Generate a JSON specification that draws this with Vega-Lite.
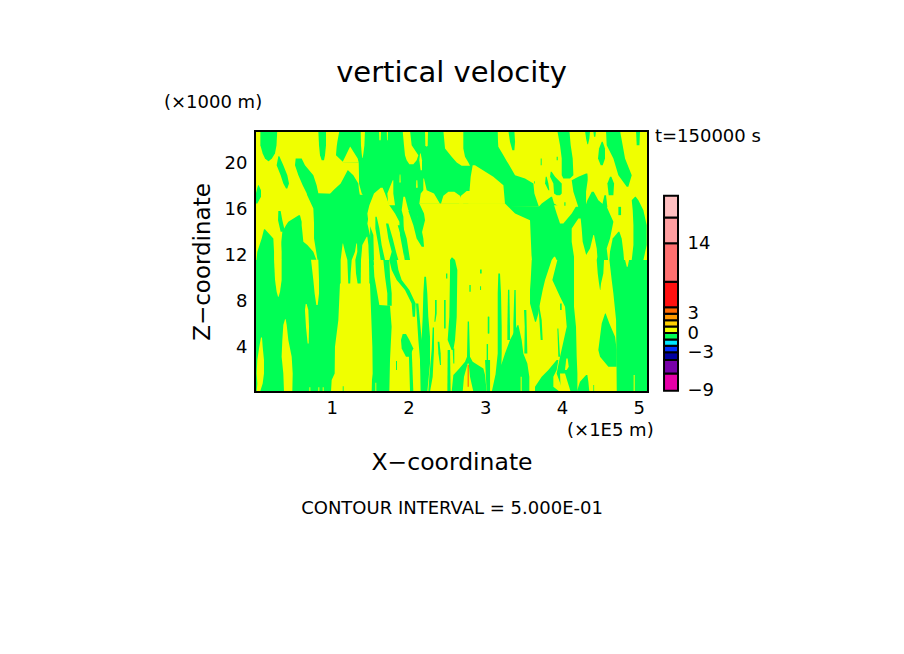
{
"$schema":"https://vega.github.io/schema/vega-lite/v6.json",
"autosize":"none",
"padding":{"left":255,"top":131,"right":256,"bottom":262},
"width":393,
"height":261,
"background":"white",
"config":{"view":{"stroke":null},"font":"DejaVu Sans"},
"title":{"text":"vertical velocity","fontSize":29,"fontWeight":"normal","font":"DejaVu Sans","color":"black","anchor":"middle","offset":6},
"datasets":{
"bar":[
{"level":"-9","lo":-9,"hi":-6.3},{"level":"-6","lo":-6.3,"hi":-4.2},{"level":"-4","lo":-4.2,"hi":-3},{"level":"-3","lo":-3,"hi":-2},{"level":"-2","lo":-2,"hi":-1},{"level":"-1","lo":-1,"hi":0},{"level":"0","lo":0,"hi":1},{"level":"1","lo":1,"hi":2},{"level":"2","lo":2,"hi":3},{"level":"3","lo":3,"hi":4},{"level":"4","lo":4,"hi":8},{"level":"8","lo":8,"hi":14},{"level":"14","lo":14,"hi":18},{"level":"18","lo":18,"hi":21.4}],
"notes":[
{"note":"(×1000 m)","x":-1.186,"z":25.2},
{"note":"(×1E5 m)","x":4.065,"z":-3.3},
{"note":"t=150000 s","x":5.21,"z":22.26}],
"footer":[{"note":"CONTOUR INTERVAL = 5.000E-01","x":2.567,"z":-10.09}],
"lobes":[
{"lobe":"base","level":"0","z":22.81,"xa":0,"xb":5.12},{"lobe":"base","level":"0","z":0.09,"xa":0,"xb":5.12},
{"lobe":"g1","level":"-1","z":22.81,"xa":0.07,"xb":0.29},{"lobe":"g1","level":"-1","z":21.57,"xa":0.07,"xb":0.28},{"lobe":"g1","level":"-1","z":20.84,"xa":0.1,"xb":0.26},{"lobe":"g1","level":"-1","z":20.41,"xa":0.13,"xb":0.22},{"lobe":"g1","level":"-1","z":20.17,"xa":0.174,"xb":0.178},
{"lobe":"g2","level":"-1","z":20.61,"xa":0.304,"xb":0.317},{"lobe":"g2","level":"-1","z":19.83,"xa":0.282,"xb":0.369},{"lobe":"g2","level":"-1","z":18.96,"xa":0.334,"xb":0.421},{"lobe":"g2","level":"-1","z":18.23,"xa":0.369,"xb":0.443},{"lobe":"g2","level":"-1","z":17.8,"xa":0.404,"xb":0.421},
{"lobe":"g3","level":"-1","z":18.09,"xa":0.039,"xb":0.048},{"lobe":"g3","level":"-1","z":17.65,"xa":0.022,"xb":0.078},{"lobe":"g3","level":"-1","z":17.07,"xa":0,"xb":0.078},{"lobe":"g3","level":"-1","z":16.49,"xa":0,"xb":0.03},
{"lobe":"g4","level":"-1","z":22.81,"xa":0.825,"xb":0.925},{"lobe":"g4","level":"-1","z":21.57,"xa":0.834,"xb":0.925},{"lobe":"g4","level":"-1","z":20.7,"xa":0.847,"xb":0.912},{"lobe":"g4","level":"-1","z":20.26,"xa":0.869,"xb":0.899},
{"lobe":"l1","level":"-1","z":14.26,"xa":0.117,"xb":0.13},{"lobe":"l1","level":"-1","z":13.45,"xa":0.087,"xb":0.239},{"lobe":"l1","level":"-1","z":12.29,"xa":0.03,"xb":0.248},{"lobe":"l1","level":"-1","z":11.13,"xa":0.013,"xb":0.248},
{"lobe":"l2","level":"-1","z":15.83,"xa":0.304,"xb":0.334},{"lobe":"l2","level":"-1","z":15.04,"xa":0.3,"xb":0.356},{"lobe":"l2","level":"-1","z":14.03,"xa":0.334,"xb":0.391},
{"lobe":"l3","level":"-1","z":15.48,"xa":0.569,"xb":0.586},{"lobe":"l3","level":"-1","z":14.9,"xa":0.434,"xb":0.608},{"lobe":"l3","level":"-1","z":14.61,"xa":0.404,"xb":0.608},{"lobe":"l3","level":"-1","z":14.03,"xa":0.356,"xb":0.617},{"lobe":"l3","level":"-1","z":13.16,"xa":0.343,"xb":0.63},{"lobe":"l3","level":"-1","z":12.87,"xa":0.343,"xb":0.682},{"lobe":"l3","level":"-1","z":12.29,"xa":0.347,"xb":0.76},{"lobe":"l3","level":"-1","z":11.13,"xa":0.347,"xb":0.825},
{"lobe":"trunk","level":"-1","z":20.41,"xa":0.53,"xb":0.608},{"lobe":"trunk","level":"-1","z":19.83,"xa":0.521,"xb":0.651},{"lobe":"trunk","level":"-1","z":18.96,"xa":0.565,"xb":0.76},{"lobe":"trunk","level":"-1","z":18.09,"xa":0.621,"xb":0.803},{"lobe":"trunk","level":"-1","z":17.39,"xa":0.673,"xb":0.825},{"lobe":"trunk","level":"-1","z":17.22,"xa":0.68,"xb":1.563},{"lobe":"trunk","level":"-1","z":16.06,"xa":0.76,"xb":1.498},{"lobe":"trunk","level":"-1","z":14.75,"xa":0.769,"xb":1.464},{"lobe":"trunk","level":"-1","z":13.45,"xa":0.769,"xb":1.507},{"lobe":"trunk","level":"-1","z":11.13,"xa":0.825,"xb":1.55},
{"lobe":"peak","level":"-1","z":19.39,"xa":1.207,"xb":1.212},{"lobe":"peak","level":"-1","z":18.96,"xa":1.173,"xb":1.281},{"lobe":"peak","level":"-1","z":18.23,"xa":1.116,"xb":1.346},{"lobe":"peak","level":"-1","z":17.65,"xa":1.021,"xb":1.355},{"lobe":"peak","level":"-1","z":17.16,"xa":0.955,"xb":1.368},
{"lobe":"band","level":"-1","z":22.81,"xa":1.099,"xb":3.162},{"lobe":"band","level":"-1","z":21.86,"xa":1.073,"xb":3.166},{"lobe":"band","level":"-1","z":21.42,"xa":1.064,"xb":3.17},{"lobe":"band","level":"-1","z":20.7,"xa":1.055,"xb":3.236},{"lobe":"band","level":"-1","z":20.09,"xa":1.151,"xb":3.288},{"lobe":"band","level":"-1","z":20.06,"xa":1.351,"xb":3.292},{"lobe":"band","level":"-1","z":18.96,"xa":1.355,"xb":3.388},{"lobe":"band","level":"-1","z":18.67,"xa":1.355,"xb":3.518},{"lobe":"band","level":"-1","z":18.23,"xa":1.355,"xb":3.627},{"lobe":"band","level":"-1","z":17.36,"xa":1.39,"xb":3.64},{"lobe":"band","level":"-1","z":16.35,"xa":1.5,"xb":3.692},{"lobe":"band","level":"-1","z":16.2,"xa":1.5,"xb":3.7},{"lobe":"band","level":"-1","z":16.17,"xa":1.5,"xb":2.25},{"lobe":"band","level":"-1","z":11.57,"xa":1.5,"xb":2.25},
{"lobe":"bot","level":"-1","z":11.57,"xa":0,"xb":1.542},{"lobe":"bot","level":"-1","z":10.12,"xa":0,"xb":1.555},{"lobe":"bot","level":"-1","z":8.67,"xa":0,"xb":1.594},{"lobe":"bot","level":"-1","z":7.65,"xa":0,"xb":1.62},{"lobe":"bot","level":"-1","z":7.59,"xa":0,"xb":1.759},{"lobe":"bot","level":"-1","z":5.77,"xa":0,"xb":1.78},{"lobe":"bot","level":"-1","z":2.87,"xa":0,"xb":1.759},{"lobe":"bot","level":"-1","z":0.09,"xa":0,"xb":1.75},
{"lobe":"mass","level":"-1","z":16.2,"xa":3.2,"xb":4.582},{"lobe":"mass","level":"-1","z":14.9,"xa":3.55,"xb":4.669},{"lobe":"mass","level":"-1","z":13.45,"xa":3.583,"xb":4.625},{"lobe":"mass","level":"-1","z":12.58,"xa":3.583,"xb":4.582},{"lobe":"mass","level":"-1","z":11.57,"xa":3.605,"xb":4.6},
{"lobe":"m0","level":"-1","z":17.07,"xa":3.857,"xb":3.87},{"lobe":"m0","level":"-1","z":16.49,"xa":3.735,"xb":3.896},{"lobe":"m0","level":"-1","z":16.17,"xa":3.692,"xb":3.974},
{"lobe":"mp","level":"-1","z":17.51,"xa":4.387,"xb":4.413},{"lobe":"mp","level":"-1","z":16.78,"xa":4.33,"xb":4.473},{"lobe":"mp","level":"-1","z":16.17,"xa":4.3,"xb":4.582},
{"lobe":"mq","level":"-1","z":17.22,"xa":4.552,"xb":4.573},{"lobe":"mq","level":"-1","z":16.17,"xa":4.517,"xb":4.591},
{"lobe":"mn","level":"-1","z":19.1,"xa":4.313,"xb":4.33},{"lobe":"mn","level":"-1","z":18.81,"xa":4.213,"xb":4.334},{"lobe":"mn","level":"-1","z":18.52,"xa":4.126,"xb":4.334},{"lobe":"mn","level":"-1","z":17.51,"xa":4.148,"xb":4.313},{"lobe":"mn","level":"-1","z":16.17,"xa":4.213,"xb":4.313},
{"lobe":"mm","level":"-1","z":19.25,"xa":3.852,"xb":3.865},{"lobe":"mm","level":"-1","z":18.81,"xa":3.844,"xb":3.909},{"lobe":"mm","level":"-1","z":18.23,"xa":3.887,"xb":3.996},{"lobe":"mm","level":"-1","z":17.36,"xa":3.896,"xb":3.996},{"lobe":"mm","level":"-1","z":17.22,"xa":3.93,"xb":3.974},
{"lobe":"ml","level":"-1","z":18.81,"xa":3.787,"xb":3.8},{"lobe":"ml","level":"-1","z":18.23,"xa":3.779,"xb":3.822},{"lobe":"ml","level":"-1","z":17.65,"xa":3.822,"xb":3.835},
{"lobe":"ua","level":"-1","z":22.81,"xa":3.939,"xb":4.096},{"lobe":"ua","level":"-1","z":21.57,"xa":3.974,"xb":4.113},{"lobe":"ua","level":"-1","z":20.41,"xa":3.996,"xb":4.139},{"lobe":"ua","level":"-1","z":18.96,"xa":3.996,"xb":4.148},{"lobe":"ua","level":"-1","z":18.67,"xa":4.017,"xb":4.104},
{"lobe":"ub","level":"-1","z":22.81,"xa":3.301,"xb":3.379},{"lobe":"ub","level":"-1","z":21.86,"xa":3.322,"xb":3.388},{"lobe":"ub","level":"-1","z":21.13,"xa":3.353,"xb":3.379},
{"lobe":"uc","level":"-1","z":22.81,"xa":4.3,"xb":4.365},{"lobe":"uc","level":"-1","z":22.14,"xa":4.313,"xb":4.356},{"lobe":"uc","level":"-1","z":21.65,"xa":4.33,"xb":4.339},
{"lobe":"ud","level":"-1","z":22.81,"xa":4.408,"xb":4.443},{"lobe":"ud","level":"-1","z":22.29,"xa":4.417,"xb":4.434},
{"lobe":"ue","level":"-1","z":21.86,"xa":4.517,"xb":4.53},{"lobe":"ue","level":"-1","z":21.28,"xa":4.482,"xb":4.56},{"lobe":"ue","level":"-1","z":20.41,"xa":4.469,"xb":4.56},{"lobe":"ue","level":"-1","z":19.83,"xa":4.504,"xb":4.53},
{"lobe":"uf","level":"-1","z":22.81,"xa":4.573,"xb":4.756},{"lobe":"uf","level":"-1","z":21.57,"xa":4.582,"xb":4.79},{"lobe":"uf","level":"-1","z":20.41,"xa":4.669,"xb":4.821},{"lobe":"uf","level":"-1","z":18.96,"xa":4.734,"xb":4.908},{"lobe":"uf","level":"-1","z":17.94,"xa":4.843,"xb":4.864},
{"lobe":"ug","level":"-1","z":22.81,"xa":4.964,"xb":5.016},{"lobe":"ug","level":"-1","z":21.57,"xa":4.973,"xb":5.008},
{"lobe":"uh","level":"-1","z":18.81,"xa":4.625,"xb":4.643},{"lobe":"uh","level":"-1","z":18.23,"xa":4.591,"xb":4.678},{"lobe":"uh","level":"-1","z":17.22,"xa":4.608,"xb":4.669},
{"lobe":"ui","level":"-1","z":16.2,"xa":4.734,"xb":4.769},{"lobe":"ui","level":"-1","z":15.48,"xa":4.734,"xb":4.769},
{"lobe":"uj","level":"-1","z":17.07,"xa":4.951,"xb":4.96},{"lobe":"uj","level":"-1","z":16.78,"xa":4.908,"xb":4.995},{"lobe":"uj","level":"-1","z":15.91,"xa":4.921,"xb":5.06},{"lobe":"uj","level":"-1","z":14.61,"xa":4.93,"xb":5.103},{"lobe":"uj","level":"-1","z":12.87,"xa":4.93,"xb":5.103},{"lobe":"uj","level":"-1","z":11.57,"xa":4.908,"xb":5.06},
{"lobe":"uk","level":"-1","z":14.03,"xa":4.734,"xb":4.747},{"lobe":"uk","level":"-1","z":13.45,"xa":4.66,"xb":4.777},{"lobe":"uk","level":"-1","z":12.29,"xa":4.625,"xb":4.799},{"lobe":"uk","level":"-1","z":11.57,"xa":4.617,"xb":4.808},
{"lobe":"r2","level":"-1","z":11.57,"xa":4.617,"xb":5.12},{"lobe":"r2","level":"-1","z":9.83,"xa":4.647,"xb":5.12},{"lobe":"r2","level":"-1","z":8.67,"xa":4.669,"xb":5.12},{"lobe":"r2","level":"-1","z":6.35,"xa":4.704,"xb":5.12},{"lobe":"r2","level":"-1","z":0.09,"xa":4.713,"xb":5.12},
{"lobe":"yw","level":"0","z":21.42,"xa":1.238,"xb":1.242},{"lobe":"yw","level":"0","z":20.41,"xa":1.164,"xb":1.338},{"lobe":"yw","level":"0","z":20.06,"xa":1.138,"xb":1.351},
{"lobe":"yn","level":"0","z":22.81,"xa":1.377,"xb":1.433},{"lobe":"yn","level":"0","z":21.57,"xa":1.381,"xb":1.425},{"lobe":"yn","level":"0","z":20.84,"xa":1.39,"xb":1.412},{"lobe":"yn","level":"0","z":20.46,"xa":1.398,"xb":1.403},
{"lobe":"yt1","level":"0","z":22.81,"xa":1.616,"xb":1.642},{"lobe":"yt1","level":"0","z":22,"xa":1.62,"xb":1.637},
{"lobe":"yt2","level":"0","z":22.81,"xa":1.716,"xb":1.733},{"lobe":"yt2","level":"0","z":22,"xa":1.72,"xb":1.729},
{"lobe":"yt3","level":"0","z":22.81,"xa":1.924,"xb":2.02},{"lobe":"yt3","level":"0","z":21.57,"xa":1.941,"xb":2.041},{"lobe":"yt3","level":"0","z":20.7,"xa":1.954,"xb":2.128},{"lobe":"yt3","level":"0","z":20.26,"xa":1.976,"xb":2.106},{"lobe":"yt3","level":"0","z":19.91,"xa":2.011,"xb":2.063},
{"lobe":"yt3b","level":"0","z":20.84,"xa":2.15,"xb":2.159},{"lobe":"yt3b","level":"0","z":20.26,"xa":2.141,"xb":2.176},{"lobe":"yt3b","level":"0","z":19.39,"xa":2.158,"xb":2.176},
{"lobe":"yt4","level":"0","z":22.81,"xa":2.215,"xb":2.254},{"lobe":"yt4","level":"0","z":21.57,"xa":2.219,"xb":2.25},{"lobe":"yt4","level":"0","z":21.45,"xa":2.232,"xb":2.241},
{"lobe":"yt5","level":"0","z":22.81,"xa":2.454,"xb":2.714},{"lobe":"yt5","level":"0","z":21.28,"xa":2.476,"xb":2.714},{"lobe":"yt5","level":"0","z":20.55,"xa":2.562,"xb":2.736},{"lobe":"yt5","level":"0","z":20.06,"xa":2.628,"xb":2.78},{"lobe":"yt5","level":"0","z":19.77,"xa":2.693,"xb":2.801},
{"lobe":"ys1","level":"0","z":19.01,"xa":1.885,"xb":1.894},{"lobe":"ys1","level":"0","z":18.32,"xa":1.881,"xb":1.898},
{"lobe":"ys2","level":"0","z":18.52,"xa":2.102,"xb":2.115},{"lobe":"ys2","level":"0","z":17.86,"xa":2.098,"xb":2.12},
{"lobe":"yz1","level":"0","z":17.86,"xa":1.637,"xb":1.663},{"lobe":"yz1","level":"0","z":17.36,"xa":1.55,"xb":1.694},{"lobe":"yz1","level":"0","z":16.35,"xa":1.49,"xb":1.75},{"lobe":"yz1","level":"0","z":15.62,"xa":1.464,"xb":1.824},{"lobe":"yz1","level":"0","z":14.9,"xa":1.477,"xb":1.881},{"lobe":"yz1","level":"0","z":13.74,"xa":1.542,"xb":1.889},{"lobe":"yz1","level":"0","z":11.57,"xa":1.55,"xb":1.95},
{"lobe":"yz1b","level":"0","z":18.52,"xa":1.794,"xb":1.802},{"lobe":"yz1b","level":"0","z":17.8,"xa":1.75,"xb":1.802},{"lobe":"yz1b","level":"0","z":17.36,"xa":1.724,"xb":1.802},{"lobe":"yz1b","level":"0","z":16.35,"xa":1.737,"xb":1.824},
{"lobe":"yz2","level":"0","z":17.07,"xa":1.933,"xb":1.954},{"lobe":"yz2","level":"0","z":15.91,"xa":1.911,"xb":1.998},{"lobe":"yz2","level":"0","z":15.33,"xa":1.933,"xb":2.115},{"lobe":"yz2","level":"0","z":13.74,"xa":1.941,"xb":2.159},{"lobe":"yz2","level":"0","z":11.57,"xa":1.95,"xb":2.2},
{"lobe":"yb1","level":"0","z":16.49,"xa":2.141,"xb":3.257},{"lobe":"yb1","level":"0","z":15.62,"xa":2.202,"xb":3.388},{"lobe":"yb1","level":"0","z":15.04,"xa":2.215,"xb":3.583},{"lobe":"yb1","level":"0","z":11.57,"xa":2.085,"xb":3.605},
{"lobe":"yp1","level":"0","z":18.67,"xa":2.193,"xb":2.202},{"lobe":"yp1","level":"0","z":17.65,"xa":2.193,"xb":2.237},{"lobe":"yp1","level":"0","z":17.36,"xa":2.159,"xb":2.332},{"lobe":"yp1","level":"0","z":16.46,"xa":2.141,"xb":2.41},
{"lobe":"yp2","level":"0","z":17.51,"xa":2.519,"xb":2.597},{"lobe":"yp2","level":"0","z":17.16,"xa":2.454,"xb":2.671},{"lobe":"yp2","level":"0","z":16.46,"xa":2.423,"xb":2.714},
{"lobe":"yp3","level":"0","z":17.59,"xa":2.758,"xb":2.823},{"lobe":"yp3","level":"0","z":17.16,"xa":2.684,"xb":2.823},{"lobe":"yp3","level":"0","z":16.46,"xa":2.658,"xb":3.257},
{"lobe":"yp4","level":"0","z":19.83,"xa":2.836,"xb":2.866},{"lobe":"yp4","level":"0","z":18.81,"xa":2.81,"xb":3.105},{"lobe":"yp4","level":"0","z":18.09,"xa":2.801,"xb":3.236},{"lobe":"yp4","level":"0","z":16.46,"xa":2.78,"xb":3.257},
{"lobe":"ya","level":"0","z":15.19,"xa":4.213,"xb":4.243},{"lobe":"ya","level":"0","z":14.32,"xa":4.126,"xb":4.256},{"lobe":"ya","level":"0","z":13.16,"xa":4.126,"xb":4.269},{"lobe":"ya","level":"0","z":11.86,"xa":4.156,"xb":4.321},{"lobe":"ya","level":"0","z":11.57,"xa":4.156,"xb":4.452},
{"lobe":"yb","level":"0","z":13.74,"xa":4.408,"xb":4.417},{"lobe":"yb","level":"0","z":12.58,"xa":4.365,"xb":4.452},{"lobe":"yb","level":"0","z":11.86,"xa":4.3,"xb":4.46},{"lobe":"yb","level":"0","z":11.57,"xa":4.156,"xb":4.452},
{"lobe":"yc","level":"0","z":16.35,"xa":3.896,"xb":4.191},{"lobe":"yc","level":"0","z":15.62,"xa":3.93,"xb":4.126},{"lobe":"yc","level":"0","z":14.75,"xa":3.974,"xb":4.017},
{"lobe":"yd","level":"0","z":11.86,"xa":3.896,"xb":3.909},{"lobe":"yd","level":"0","z":11.57,"xa":3.865,"xb":3.93},
{"lobe":"yfa","level":"0","z":11.6,"xa":0.248,"xb":0.347},{"lobe":"yfa","level":"0","z":9.83,"xa":0.261,"xb":0.347},{"lobe":"yfa","level":"0","z":8.81,"xa":0.282,"xb":0.326},{"lobe":"yfa","level":"0","z":8.38,"xa":0.3,"xb":0.308},
{"lobe":"yfb","level":"0","z":11.6,"xa":0.73,"xb":0.825},{"lobe":"yfb","level":"0","z":9.83,"xa":0.76,"xb":0.834},{"lobe":"yfb","level":"0","z":8.67,"xa":0.777,"xb":0.834},{"lobe":"yfb","level":"0","z":7.65,"xa":0.799,"xb":0.817},
{"lobe":"yfc","level":"0","z":7.74,"xa":0.66,"xb":0.673},{"lobe":"yfc","level":"0","z":7.22,"xa":0.651,"xb":0.695},{"lobe":"yfc","level":"0","z":5.77,"xa":0.664,"xb":0.704},{"lobe":"yfc","level":"0","z":4.32,"xa":0.686,"xb":0.699},
{"lobe":"yfd","level":"0","z":6.41,"xa":0.391,"xb":0.4},{"lobe":"yfd","level":"0","z":5.91,"xa":0.369,"xb":0.413},{"lobe":"yfd","level":"0","z":4.61,"xa":0.356,"xb":0.434},{"lobe":"yfd","level":"0","z":3.16,"xa":0.347,"xb":0.478},{"lobe":"yfd","level":"0","z":1.71,"xa":0.369,"xb":0.491},{"lobe":"yfd","level":"0","z":0.09,"xa":0.378,"xb":0.486},
{"lobe":"yfe","level":"0","z":4.84,"xa":0.078,"xb":0.091},{"lobe":"yfe","level":"0","z":4.03,"xa":0.056,"xb":0.1},{"lobe":"yfe","level":"0","z":2.87,"xa":0.03,"xb":0.117},{"lobe":"yfe","level":"0","z":1.71,"xa":0.022,"xb":0.117},{"lobe":"yfe","level":"0","z":0.84,"xa":0.03,"xb":0.1},{"lobe":"yfe","level":"0","z":0.09,"xa":0.022,"xb":0.065},
{"lobe":"yb2","level":"0","z":0.5,"xa":0.708,"xb":0.721},{"lobe":"yb2","level":"0","z":0.09,"xa":0.708,"xb":0.721},
{"lobe":"yb3","level":"0","z":0.5,"xa":0.825,"xb":0.838},{"lobe":"yb3","level":"0","z":0.09,"xa":0.825,"xb":0.838},
{"lobe":"yb4","level":"0","z":0.5,"xa":0.882,"xb":0.895},{"lobe":"yb4","level":"0","z":0.09,"xa":0.882,"xb":0.895},
{"lobe":"yb5","level":"0","z":0.9,"xa":1.568,"xb":1.58},{"lobe":"yb5","level":"0","z":0.09,"xa":1.568,"xb":1.58},
{"lobe":"f1","level":"0","z":13.01,"xa":1.142,"xb":1.147},{"lobe":"f1","level":"0","z":12.29,"xa":1.129,"xb":1.173},{"lobe":"f1","level":"0","z":11.57,"xa":1.116,"xb":1.203},{"lobe":"f1","level":"0","z":9.39,"xa":1.116,"xb":1.216},
{"lobe":"f2","level":"0","z":13.01,"xa":1.32,"xb":1.329},{"lobe":"f2","level":"0","z":12.29,"xa":1.303,"xb":1.333},{"lobe":"f2","level":"0","z":11.57,"xa":1.26,"xb":1.307},{"lobe":"f2","level":"0","z":10.41,"xa":1.246,"xb":1.316},{"lobe":"f2","level":"0","z":9.39,"xa":1.24,"xb":1.34},
{"lobe":"f3","level":"0","z":13.59,"xa":1.455,"xb":1.464},{"lobe":"f3","level":"0","z":12.87,"xa":1.398,"xb":1.477},{"lobe":"f3","level":"0","z":11.57,"xa":1.381,"xb":1.485},{"lobe":"f3","level":"0","z":9.39,"xa":1.377,"xb":1.49},
{"lobe":"fc","level":"0","z":9.54,"xa":1.107,"xb":1.498},{"lobe":"fc","level":"0","z":6.35,"xa":1.086,"xb":1.516},{"lobe":"fc","level":"0","z":4.03,"xa":1.042,"xb":1.529},{"lobe":"fc","level":"0","z":1.71,"xa":1.038,"xb":1.533},{"lobe":"fc","level":"0","z":1.13,"xa":0.999,"xb":1.524},{"lobe":"fc","level":"0","z":0.09,"xa":0.99,"xb":1.52},
{"lobe":"yr1","level":"0","z":11.57,"xa":4.821,"xb":4.873},{"lobe":"yr1","level":"0","z":10.99,"xa":4.843,"xb":4.856},
{"lobe":"yr2","level":"0","z":1.57,"xa":4.933,"xb":4.947},{"lobe":"yr2","level":"0","z":0.09,"xa":4.933,"xb":4.947},
{"lobe":"sa","level":"-1","z":15.33,"xa":1.568,"xb":1.585},{"lobe":"sa","level":"-1","z":14.32,"xa":1.568,"xb":1.62},{"lobe":"sa","level":"-1","z":12.87,"xa":1.607,"xb":1.65},{"lobe":"sa","level":"-1","z":11.57,"xa":1.637,"xb":1.694},
{"lobe":"sb","level":"-1","z":14.75,"xa":1.707,"xb":1.737},{"lobe":"sb","level":"-1","z":13.45,"xa":1.737,"xb":1.794},{"lobe":"sb","level":"-1","z":12.29,"xa":1.781,"xb":1.837},{"lobe":"sb","level":"-1","z":11.57,"xa":1.75,"xb":1.868},
{"lobe":"s3","level":"-1","z":11.57,"xa":1.75,"xb":1.846},{"lobe":"s3","level":"-1","z":10.7,"xa":1.781,"xb":1.868},{"lobe":"s3","level":"-1","z":9.83,"xa":1.846,"xb":1.911},{"lobe":"s3","level":"-1","z":8.96,"xa":1.954,"xb":2.011},{"lobe":"s3","level":"-1","z":7.8,"xa":2.041,"xb":2.093},{"lobe":"s3","level":"-1","z":6.64,"xa":2.054,"xb":2.085},
{"lobe":"s2","level":"-1","z":11.57,"xa":1.672,"xb":1.75},{"lobe":"s2","level":"-1","z":10.12,"xa":1.694,"xb":1.759},{"lobe":"s2","level":"-1","z":8.67,"xa":1.724,"xb":1.781},{"lobe":"s2","level":"-1","z":7.59,"xa":1.724,"xb":1.781},
{"lobe":"sc","level":"-1","z":14.61,"xa":1.859,"xb":1.924},{"lobe":"sc","level":"-1","z":13.45,"xa":1.911,"xb":1.976},{"lobe":"sc","level":"-1","z":11.57,"xa":1.954,"xb":2.02},
{"lobe":"sd","level":"-1","z":15.83,"xa":1.998,"xb":2.093},{"lobe":"sd","level":"-1","z":14.61,"xa":2.063,"xb":2.159},{"lobe":"sd","level":"-1","z":13.45,"xa":2.106,"xb":2.193},{"lobe":"sd","level":"-1","z":12.72,"xa":2.172,"xb":2.202},
{"lobe":"blob","level":"-1","z":5.13,"xa":1.924,"xb":1.967},{"lobe":"blob","level":"-1","z":4.61,"xa":1.902,"xb":2.011},{"lobe":"blob","level":"-1","z":3.88,"xa":1.911,"xb":2.063},{"lobe":"blob","level":"-1","z":3.16,"xa":1.967,"xb":2.011},
{"lobe":"se","level":"-1","z":3.88,"xa":2.002,"xb":2.041},{"lobe":"se","level":"-1","z":0.09,"xa":2.02,"xb":2.063},
{"lobe":"sf","level":"-1","z":2.78,"xa":1.837,"xb":1.85},{"lobe":"sf","level":"-1","z":2,"xa":1.837,"xb":1.85},
{"lobe":"sg","level":"-1","z":7.8,"xa":2.098,"xb":2.128},{"lobe":"sg","level":"-1","z":4.61,"xa":2.128,"xb":2.172},{"lobe":"sg","level":"-1","z":2.87,"xa":2.15,"xb":2.215},{"lobe":"sg","level":"-1","z":0.09,"xa":2.158,"xb":2.228},
{"lobe":"s7a","level":"-1","z":10.12,"xa":2.206,"xb":2.228},{"lobe":"s7a","level":"-1","z":8.67,"xa":2.193,"xb":2.245},{"lobe":"s7a","level":"-1","z":6.64,"xa":2.185,"xb":2.258},{"lobe":"s7a","level":"-1","z":4.9,"xa":2.172,"xb":2.28},{"lobe":"s7a","level":"-1","z":4.03,"xa":2.15,"xb":2.28},{"lobe":"s7a","level":"-1","z":2.58,"xa":2.15,"xb":2.28},{"lobe":"s7a","level":"-1","z":0.12,"xa":2.215,"xb":2.245},
{"lobe":"s7b","level":"-1","z":8.09,"xa":2.345,"xb":2.367},{"lobe":"s7b","level":"-1","z":6.93,"xa":2.345,"xb":2.367},{"lobe":"s7b","level":"-1","z":6.2,"xa":2.337,"xb":2.35},
{"lobe":"s7c","level":"-1","z":4.46,"xa":2.38,"xb":2.402},{"lobe":"s7c","level":"-1","z":3.45,"xa":2.389,"xb":2.419},{"lobe":"s7c","level":"-1","z":2.43,"xa":2.41,"xb":2.423},
{"lobe":"s7d","level":"-1","z":5.71,"xa":2.315,"xb":2.332},{"lobe":"s7d","level":"-1","z":3.74,"xa":2.302,"xb":2.332},{"lobe":"s7d","level":"-1","z":1.42,"xa":2.271,"xb":2.315},{"lobe":"s7d","level":"-1","z":0.12,"xa":2.258,"xb":2.28},
{"lobe":"s7e","level":"-1","z":8.09,"xa":2.463,"xb":2.484},{"lobe":"s7e","level":"-1","z":5.62,"xa":2.463,"xb":2.484},
{"lobe":"fin","level":"-1","z":11.8,"xa":2.562,"xb":2.571},{"lobe":"fin","level":"-1","z":11.57,"xa":2.541,"xb":2.606},{"lobe":"fin","level":"-1","z":10.7,"xa":2.541,"xb":2.636},{"lobe":"fin","level":"-1","z":6.64,"xa":2.532,"xb":2.628},{"lobe":"fin","level":"-1","z":4.61,"xa":2.51,"xb":2.606},{"lobe":"fin","level":"-1","z":3.74,"xa":2.562,"xb":2.584},
{"lobe":"s7f","level":"-1","z":3.74,"xa":2.51,"xb":2.541},{"lobe":"s7f","level":"-1","z":0.12,"xa":2.506,"xb":2.549},
{"lobe":"s7g","level":"-1","z":3.88,"xa":2.575,"xb":2.597},{"lobe":"s7g","level":"-1","z":2.58,"xa":2.584,"xb":2.597},
{"lobe":"mound","level":"-1","z":6.23,"xa":2.771,"xb":2.788},{"lobe":"mound","level":"-1","z":3.16,"xa":2.762,"xb":2.801},{"lobe":"mound","level":"-1","z":2.72,"xa":2.736,"xb":2.836},{"lobe":"mound","level":"-1","z":2.14,"xa":2.662,"xb":2.975},{"lobe":"mound","level":"-1","z":1.57,"xa":2.584,"xb":2.997},{"lobe":"mound","level":"-1","z":0.12,"xa":2.562,"xb":3.018},
{"lobe":"ymound","level":"0","z":2.58,"xa":2.771,"xb":2.784},{"lobe":"ymound","level":"0","z":1.42,"xa":2.723,"xb":2.801},{"lobe":"ymound","level":"0","z":0.12,"xa":2.706,"xb":2.845},
{"lobe":"s7h","level":"-1","z":6.64,"xa":3.036,"xb":3.053},{"lobe":"s7h","level":"-1","z":5.19,"xa":3.036,"xb":3.053},
{"lobe":"s7i","level":"-1","z":4.26,"xa":3.018,"xb":3.036},{"lobe":"s7i","level":"-1","z":2.87,"xa":3.018,"xb":3.036},
{"lobe":"s7j","level":"-1","z":2.87,"xa":2.997,"xb":3.062},{"lobe":"s7j","level":"-1","z":0.12,"xa":3.018,"xb":3.062},
{"lobe":"sp1","level":"-1","z":10.41,"xa":2.489,"xb":2.506},{"lobe":"sp1","level":"-1","z":9.97,"xa":2.489,"xb":2.506},
{"lobe":"sp2","level":"-1","z":10.75,"xa":2.932,"xb":2.953},{"lobe":"sp2","level":"-1","z":10.41,"xa":2.932,"xb":2.953},
{"lobe":"sp3","level":"-1","z":9.39,"xa":2.793,"xb":2.81},{"lobe":"sp3","level":"-1","z":8.81,"xa":2.793,"xb":2.81},
{"lobe":"sp4","level":"-1","z":9.3,"xa":2.932,"xb":2.945},{"lobe":"sp4","level":"-1","z":8.96,"xa":2.932,"xb":2.945},
{"lobe":"sp5","level":"-1","z":20.41,"xa":3.722,"xb":3.735},{"lobe":"sp5","level":"-1","z":19.83,"xa":3.722,"xb":3.735},
{"lobe":"sp6","level":"-1","z":20.55,"xa":3.93,"xb":3.945},{"lobe":"sp6","level":"-1","z":20.26,"xa":3.93,"xb":3.945},
{"lobe":"sp7","level":"-1","z":18.43,"xa":3.635,"xb":3.645},{"lobe":"sp7","level":"-1","z":18.23,"xa":3.635,"xb":3.645},
{"lobe":"sp8","level":"-1","z":16.6,"xa":4.03,"xb":4.045},{"lobe":"sp8","level":"-1","z":16.3,"xa":4.03,"xb":4.045},
{"lobe":"sp9","level":"-1","z":0.6,"xa":1.143,"xb":1.155},{"lobe":"sp9","level":"-1","z":0.09,"xa":1.143,"xb":1.155},
{"lobe":"z43","level":"-1","z":10.41,"xa":3.17,"xb":3.192},{"lobe":"z43","level":"-1","z":8.67,"xa":3.162,"xb":3.205},{"lobe":"z43","level":"-1","z":5.77,"xa":3.162,"xb":3.214},{"lobe":"z43","level":"-1","z":3.45,"xa":3.162,"xb":3.214},{"lobe":"z43","level":"-1","z":0.09,"xa":3.11,"xb":3.2},
{"lobe":"z44","level":"-1","z":5.91,"xa":3.422,"xb":3.431},{"lobe":"z44","level":"-1","z":4.61,"xa":3.322,"xb":3.474},{"lobe":"z44","level":"-1","z":3.45,"xa":3.257,"xb":3.496},{"lobe":"z44","level":"-1","z":2.58,"xa":3.214,"xb":3.548},{"lobe":"z44","level":"-1","z":1.42,"xa":3.127,"xb":3.574},{"lobe":"z44","level":"-1","z":0.09,"xa":3.084,"xb":3.574},
{"lobe":"yz44","level":"0","z":1.42,"xa":3.461,"xb":3.474},{"lobe":"yz44","level":"0","z":0.09,"xa":3.461,"xb":3.474},
{"lobe":"z45","level":"-1","z":8.99,"xa":3.296,"xb":3.314},{"lobe":"z45","level":"-1","z":5.77,"xa":3.288,"xb":3.322},{"lobe":"z45","level":"-1","z":4.61,"xa":3.288,"xb":3.322},
{"lobe":"z46","level":"-1","z":8.96,"xa":3.379,"xb":3.396},{"lobe":"z46","level":"-1","z":6.06,"xa":3.366,"xb":3.401},{"lobe":"z46","level":"-1","z":4.61,"xa":3.366,"xb":3.409},
{"lobe":"z47","level":"-1","z":7.22,"xa":3.505,"xb":3.535},{"lobe":"z47","level":"-1","z":5.77,"xa":3.514,"xb":3.54},{"lobe":"z47","level":"-1","z":3.45,"xa":3.509,"xb":3.548},
{"lobe":"z48","level":"-1","z":6.64,"xa":3.032,"xb":3.049},{"lobe":"z48","level":"-1","z":5.19,"xa":3.032,"xb":3.049},
{"lobe":"tongue","level":"-1","z":11.57,"xa":3.605,"xb":3.865},{"lobe":"tongue","level":"-1","z":9.83,"xa":3.592,"xb":3.779},{"lobe":"tongue","level":"-1","z":8.96,"xa":3.583,"xb":3.748},{"lobe":"tongue","level":"-1","z":7.8,"xa":3.583,"xb":3.713},{"lobe":"tongue","level":"-1","z":6.93,"xa":3.618,"xb":3.692},{"lobe":"tongue","level":"-1","z":6.2,"xa":3.648,"xb":3.661},
{"lobe":"z49","level":"-1","z":7.51,"xa":3.692,"xb":3.705},{"lobe":"z49","level":"-1","z":6.35,"xa":3.705,"xb":3.735},{"lobe":"z49","level":"-1","z":4.61,"xa":3.722,"xb":3.748},
{"lobe":"n1","level":"-1","z":11.57,"xa":3.939,"xb":4.156},{"lobe":"n1","level":"-1","z":9.83,"xa":3.874,"xb":4.156},{"lobe":"n1","level":"-1","z":8.38,"xa":3.974,"xb":4.156},{"lobe":"n1","level":"-1","z":7.51,"xa":4.039,"xb":4.156},{"lobe":"n1","level":"-1","z":5.77,"xa":4.061,"xb":4.182},{"lobe":"n1","level":"-1","z":3.16,"xa":3.974,"xb":4.191},{"lobe":"n1","level":"-1","z":1.71,"xa":3.93,"xb":4.2},{"lobe":"n1","level":"-1","z":0.09,"xa":4.017,"xb":4.2},
{"lobe":"n2","level":"-1","z":2.87,"xa":3.93,"xb":3.952},{"lobe":"n2","level":"-1","z":2,"xa":3.822,"xb":3.93},{"lobe":"n2","level":"-1","z":1.42,"xa":3.735,"xb":3.887},{"lobe":"n2","level":"-1","z":0.55,"xa":3.648,"xb":3.887},{"lobe":"n2","level":"-1","z":0.09,"xa":3.648,"xb":3.974},
{"lobe":"yn1","level":"0","z":3.01,"xa":4.056,"xb":4.074},{"lobe":"yn1","level":"0","z":2.29,"xa":4.043,"xb":4.087},{"lobe":"yn1","level":"0","z":2,"xa":4.039,"xb":4.061},
{"lobe":"yn2","level":"0","z":1.71,"xa":3.974,"xb":4.039},{"lobe":"yn2","level":"0","z":0.09,"xa":3.983,"xb":4.113},
{"lobe":"n3","level":"-1","z":5.62,"xa":3.939,"xb":3.952},{"lobe":"n3","level":"-1","z":3.16,"xa":3.952,"xb":3.974},
{"lobe":"n4","level":"-1","z":7.8,"xa":3.974,"xb":3.996},{"lobe":"n4","level":"-1","z":7.22,"xa":3.974,"xb":3.996},
{"lobe":"n5","level":"-1","z":1.57,"xa":4.313,"xb":4.33},{"lobe":"n5","level":"-1","z":0.99,"xa":4.234,"xb":4.343},{"lobe":"n5","level":"-1","z":0.09,"xa":4.191,"xb":4.356},
{"lobe":"n6","level":"-1","z":0.7,"xa":4.408,"xb":4.418},{"lobe":"n6","level":"-1","z":0.09,"xa":4.408,"xb":4.418},
{"lobe":"r1","level":"-1","z":11.57,"xa":4.452,"xb":4.547},{"lobe":"r1","level":"-1","z":10.41,"xa":4.465,"xb":4.538},{"lobe":"r1","level":"-1","z":9.54,"xa":4.482,"xb":4.508},{"lobe":"r1","level":"-1","z":8.96,"xa":4.495,"xb":4.499},
{"lobe":"c4","level":"-1","z":6.93,"xa":4.56,"xb":4.569},{"lobe":"c4","level":"-1","z":6.06,"xa":4.517,"xb":4.617},{"lobe":"c4","level":"-1","z":4.9,"xa":4.495,"xb":4.691},{"lobe":"c4","level":"-1","z":3.74,"xa":4.473,"xb":4.712},{"lobe":"c4","level":"-1","z":3.16,"xa":4.495,"xb":4.712},{"lobe":"c4","level":"-1","z":2.29,"xa":4.604,"xb":4.712},
{"lobe":"streak","level":"3","z":2.43,"xa":2.77,"xb":2.785},{"lobe":"streak","level":"3","z":0.55,"xa":2.77,"xb":2.785}
]},
"resolve":{"scale":{"y":"independent"}},
"layer":[
{"data":{"name":"lobes"},
"mark":{"type":"area","orient":"horizontal","clip":true},
"encoding":{
"x":{"field":"xa","type":"quantitative","scale":{"domain":[0,5.12],"nice":false},"axis":{"values":[1,2,3,4,5],"format":"d","title":"X−coordinate","titleFontSize":23.5,"titleFontWeight":"normal","titleColor":"black","titlePadding":33,"labelFontSize":18,"labelColor":"black","labelPadding":7,"domain":false,"ticks":false,"grid":false}},
"x2":{"field":"xb"},
"y":{"field":"z","type":"quantitative","scale":{"domain":[0.09,22.8],"nice":false,"zero":false},"axis":{"values":[4,8,12,16,20],"format":"d","title":"Z−coordinate","titleFontSize":23,"titleFontWeight":"normal","titleColor":"black","titlePadding":10,"labelFontSize":18,"labelColor":"black","labelPadding":8,"domain":false,"ticks":false,"grid":false}},
"detail":{"field":"lobe"},
"color":{"field":"level","type":"nominal","legend":null,"scale":{"domain":["-9","-6","-4","-3","-2","-1","0","1","2","3","4","8","14","18"],"range":["#e600a8","#7800a8","#0000a0","#0030ff","#00e6ff","#00ff55","#f0ff00","#ffd000","#ff9a00","#ff6a00","#ff1010","#ff7070","#ff9ea0","#ffbfc0"]}}
}},
{"mark":{"type":"rect","fill":null,"stroke":"black","strokeWidth":2},
"data":{"values":[{}]},
"encoding":{
"x":{"datum":0,"type":"quantitative","scale":{"domain":[0,5.12],"nice":false}},
"x2":{"datum":5.12},
"y":{"datum":0.09,"type":"quantitative","scale":{"domain":[0.09,22.8],"nice":false,"zero":false},"axis":null},
"y2":{"datum":22.8}
}},
{"data":{"name":"bar"},
"mark":{"type":"rect","stroke":"black","strokeWidth":2,"clip":false},
"encoding":{
"x":{"datum":5.329,"type":"quantitative","scale":{"domain":[0,5.12],"nice":false}},
"x2":{"datum":5.511},
"y":{"field":"lo","type":"quantitative","scale":{"domain":[-9.2,31.5],"nice":false,"zero":false},"axis":{"orient":"right","offset":39,"values":[-9,-3,0,3,14],"format":"d","title":null,"labelFontSize":18,"labelColor":"black","labelPadding":0,"domain":false,"ticks":false,"grid":false,"tickSize":0}},
"y2":{"field":"hi"},
"color":{"field":"level","type":"nominal","legend":null}
}},
{"data":{"name":"notes"},
"mark":{"type":"text","align":"left","baseline":"middle","fontSize":18,"color":"black","font":"DejaVu Sans"},
"encoding":{
"x":{"field":"x","type":"quantitative","scale":{"domain":[0,5.12],"nice":false}},
"y":{"field":"z","type":"quantitative","scale":{"domain":[0.09,22.8],"nice":false,"zero":false},"axis":null},
"text":{"field":"note"}
}},
{"data":{"name":"footer"},
"mark":{"type":"text","align":"center","baseline":"middle","fontSize":18,"color":"black","font":"DejaVu Sans"},
"encoding":{
"x":{"field":"x","type":"quantitative","scale":{"domain":[0,5.12],"nice":false}},
"y":{"field":"z","type":"quantitative","scale":{"domain":[0.09,22.8],"nice":false,"zero":false},"axis":null},
"text":{"field":"note"}
}}
]
}
